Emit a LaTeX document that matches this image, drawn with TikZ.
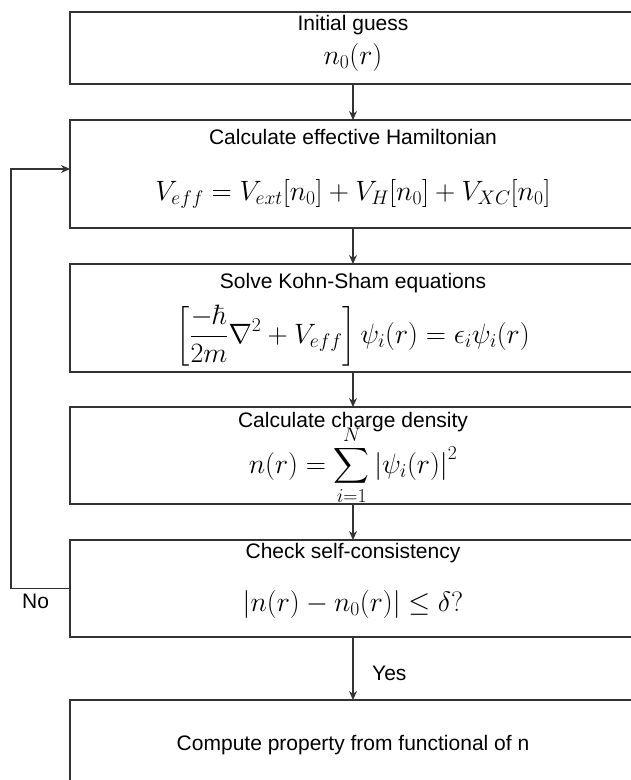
\RequirePackage{fix-cm}
\documentclass[tikz,border=0pt]{standalone}
\usepackage{amsmath}
\usepackage{exscale}
\usepackage[no-math]{fontspec}
\setmainfont{Liberation Sans}
\usetikzlibrary{arrows.meta}
\definecolor{linec}{HTML}{333333}
\tikzset{
  box/.style={draw=linec, line width=1.3, minimum width=566, inner sep=0, outer sep=0},
  lbl/.style={font=\fontsize{21}{25}\selectfont, inner sep=0, anchor=base},
  mth/.style={font=\fontsize{28}{33}\selectfont, inner sep=0, anchor=base},
  arr/.style={draw=linec, line width=1.3, -{Stealth[length=9, width=8]}},
}
\begin{document}
\begin{tikzpicture}[x=1pt,y=-1pt]
\useasboundingbox (0,0) rectangle (631,780);
\clip (0,0) rectangle (631,780);
% boxes
\node[box, minimum height=72]  (b1) at (353,48) {};
\node[box, minimum height=108] (b2) at (353,174) {};
\node[box, minimum height=108] (b3) at (353,318) {};
\node[box, minimum height=97]  (b4) at (353,455.5) {};
\node[box, minimum height=97]  (b5) at (353,588.5) {};
\node[box, minimum height=86]  (b6) at (353,743) {};
% texts
\node[lbl] (t1) at (353,30.7) {Initial guess};
\node[mth] (m1) at (353,64) {$n_0(r)$};
\node[lbl] (t2) at (353,144) {Calculate effective Hamiltonian};
\node[mth] (m2) at (353,200) {$V_{eff} = V_{ext}[n_0] + V_H[n_0] + V_{XC}[n_0]$};
\node[lbl] (t3) at (353,288) {Solve Kohn-Sham equations};
\node[mth] (m3) at (353,343) {$\displaystyle \left[\frac{-\hbar}{2m}\nabla^2 + V_{eff}\right]\psi_i(r) = \epsilon_i\psi_i(r)$};
\node[lbl] (t4) at (353,427) {Calculate charge density};
\node[mth] (m4) at (353,473) {$\displaystyle n(r) = \sum_{i=1}^{N}\left|\psi_i(r)\right|^2$};
\node[lbl] (t5) at (353,558) {Check self-consistency};
\node[mth] (m5) at (353,611) {$\left|n(r) - n_0(r)\right| \leq \delta?$};
\node[lbl] (t6) at (353,750) {Compute property from functional of n};
% connectors
\draw[arr] (b1.south) -- (b2.north);
\draw[arr] (b2.south) -- (b3.north);
\draw[arr] (b3.south) -- (b4.north);
\draw[arr] (b4.south) -- (b5.north);
\draw[arr] (b5.south) -- (b6.north);
\coordinate (loopx) at (11,0);
\coordinate (loopy) at (0,169);
\draw[arr] (b5.west) -| (loopx |- loopy) -- (b2.west |- loopy);
% branch labels
\node[lbl, anchor=base west] (yes) at (372,680) {Yes};
\node[lbl, anchor=base west] (no) at (22,608) {No};
\end{tikzpicture}
\end{document}
